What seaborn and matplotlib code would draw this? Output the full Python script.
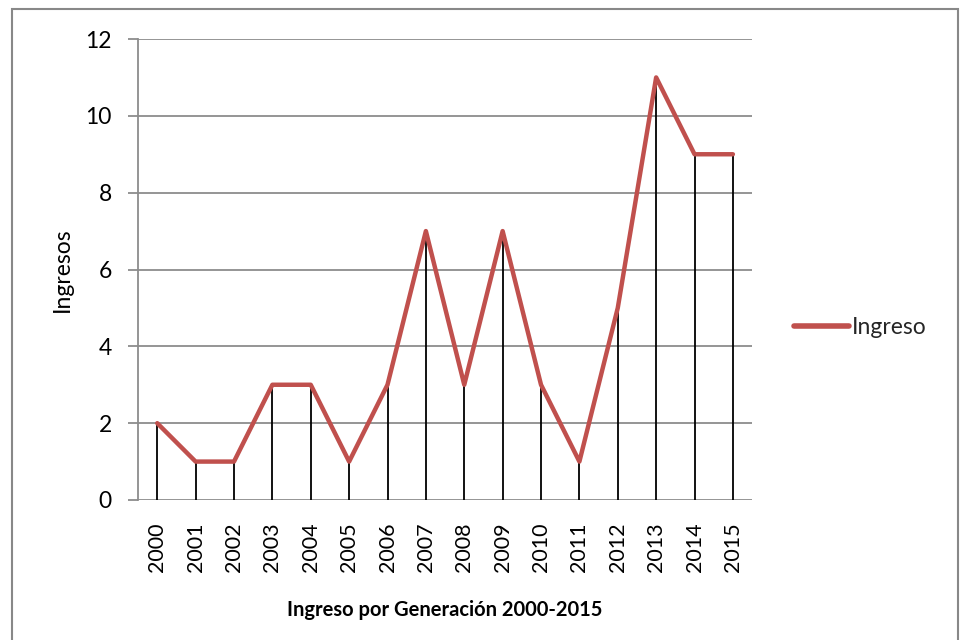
import pandas as pd
import matplotlib.pyplot as plt
import seaborn as sns
from matplotlib.patches import Rectangle

sns.set_theme(style="white")
plt.rcParams["font.family"] = ["Lato", "DejaVu Sans"]

years = ["2000", "2001", "2002", "2003", "2004", "2005", "2006", "2007",
         "2008", "2009", "2010", "2011", "2012", "2013", "2014", "2015"]
ingreso = [2, 1, 1, 3, 3, 1, 3, 7, 3, 7, 3, 1, 5, 11, 9, 9]

df = pd.DataFrame({"pos": range(len(years)), "anio": years, "Ingreso": ingreso})

fig = plt.figure(figsize=(9.62, 6.4), dpi=100)
ax = fig.add_axes([0.1435, 0.21875, 0.6383, 0.7203])

# lineas de caida (drop lines)
ax.vlines(df["pos"], 0, df["Ingreso"], color="black", linewidth=1.3, zorder=2)

sns.lineplot(data=df, x="pos", y="Ingreso", color="#C0504D", linewidth=3.2,
             label="Ingreso", ax=ax, zorder=3, solid_capstyle="round")

ax.set_xlim(-0.5, len(years) - 0.5)
ax.set_ylim(0, 12)
ax.set_yticks(range(0, 13, 2))
ax.set_xticks(df["pos"])
ax.set_xticklabels(years, rotation=90)
ax.yaxis.grid(True, color="#8c8c8c", linewidth=1.3)
ax.set_axisbelow(True)

for s in ["top", "right", "bottom"]:
    ax.spines[s].set_visible(False)
ax.spines["left"].set_color("#8c8c8c")
ax.spines["left"].set_linewidth(1.3)
ax.tick_params(axis="y", left=True, length=7, width=1.3, color="#8c8c8c",
               labelsize=16.5, pad=12, labelcolor="black")
ax.tick_params(axis="x", bottom=False, labelsize=15.5, pad=10, labelcolor="black")

ax.set_ylabel("Ingresos", fontsize=16.5, color="black", labelpad=9)
ax.set_xlabel("Ingreso por Generación 2000-2015", fontsize=14.5, fontweight="bold",
              color="black", labelpad=20)

leg = ax.legend(loc="center left", bbox_to_anchor=(1.053, 0.375), frameon=False,
                fontsize=16.5, handlelength=2.4, handletextpad=0.15, borderaxespad=0)
for line in leg.get_lines():
    line.set_linewidth(4)

fig.patches.append(Rectangle((12 / 962, -0.01), 946 / 962, 1.01 - 9 / 640,
                             transform=fig.transFigure, fill=False,
                             edgecolor="#888888", linewidth=1.5))

fig.savefig("out.png", dpi=100)
